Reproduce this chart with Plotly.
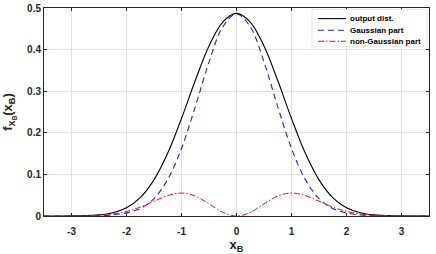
import plotly.graph_objects as go

x_vals = [-3.5, -3.25, -3.0, -2.75, -2.5, -2.25, -2.0, -1.75, -1.5, -1.25, -1.0, -0.75, -0.5, -0.25,
          0.0, 0.25, 0.5, 0.75, 1.0, 1.25, 1.5, 1.75, 2.0, 2.25, 2.5, 2.75, 3.0, 3.25, 3.5]
output_half = [0.487, 0.4663, 0.4085, 0.3256, 0.2344, 0.1512, 0.0869, 0.0443, 0.0199, 0.0079, 0.0027, 0.0009, 0.0003, 0.0001, 0.0]
gauss_half = [0.486, 0.4547, 0.3700, 0.2625, 0.1623, 0.0880, 0.0420, 0.0180, 0.0075, 0.0026, 0.0008, 0.0002, 0.0001, 0.0, 0.0]
nongauss_half = [0.0, 0.0088, 0.0292, 0.0481, 0.0552, 0.0491, 0.0356, 0.0215, 0.0110, 0.0048, 0.0018, 0.0006, 0.0002, 0.0, 0.0]

output_dist = output_half[::-1] + output_half[1:]
gauss_part = gauss_half[::-1] + gauss_half[1:]
nongauss_part = nongauss_half[::-1] + nongauss_half[1:]

series_names = ["output dist.", "Gaussian part", "non-Gaussian part"]
series_values = [output_dist, gauss_part, nongauss_part]
series_colors = ["black", "#2323e0", "#e0141e"]
series_dashes = ["solid", "6px,4px", "6px,2px,1.5px,2px"]
series_widths = [1.1, 1.1, 1.0]

x_ticks = [-3, -2, -1, 0, 1, 2, 3]
x_tick_text = ["-3", "-2", "-1", "0", "1", "2", "3"]
y_ticks = [0, 0.1, 0.2, 0.3, 0.4, 0.5]
y_tick_text = ["0", "0.1", "0.2", "0.3", "0.4", "0.5"]

font_family = "Liberation Sans, Arial, sans-serif"

fig = go.Figure()
for name, vals, col, dash, w in zip(series_names, series_values, series_colors, series_dashes, series_widths):
    fig.add_trace(go.Scatter(x=x_vals, y=vals, mode="lines", name=name, showlegend=False,
                             line=dict(color=col, width=w, dash=dash, shape="spline")))

axis_common = dict(showline=True, linecolor="#262626", linewidth=1, mirror="ticks",
                   ticks="inside", ticklen=3, tickcolor="#262626", automargin=False,
                   showgrid=True, gridcolor="#e3e3e3", gridwidth=1, zeroline=False,
                   tickfont=dict(family=font_family, size=10, color="#262626", weight="bold"))

fig.update_xaxes(range=[-3.5, 3.5], tickvals=x_ticks, ticktext=x_tick_text, ticklabelstandoff=6,
                 title=dict(text="<b>x<sub>B</sub></b>", font=dict(family=font_family, size=13, color="#262626")),
                 **axis_common)
fig.update_yaxes(range=[0, 0.5], tickvals=y_ticks, ticktext=y_tick_text,
                 title=dict(text="<b>f<sub>X<sub>B</sub></sub>(x<sub>B</sub>)</b>",
                            font=dict(family=font_family, size=13, color="#262626")),
                 **axis_common)

# legend box (drawn in paper coordinates, MATLAB-style compact legend)
fig.add_shape(type="rect", xref="paper", yref="paper", x0=0.696, x1=0.995, y0=0.814, y1=0.993,
              fillcolor="white", line=dict(color="#e2e2e2", width=0.8), layer="above")
legend_rows = [0.949, 0.893, 0.840]
for name, col, dash, w, yr in zip(series_names, series_colors, series_dashes, series_widths, legend_rows):
    fig.add_shape(type="line", xref="paper", yref="paper", x0=0.7117, x1=0.7844, y0=yr, y1=yr,
                  line=dict(color=col, width=w, dash=dash), layer="above")
    fig.add_annotation(xref="paper", yref="paper", x=0.7896, y=yr, xanchor="left", yanchor="middle",
                       text="<b>" + name + "</b>", showarrow=False,
                       font=dict(family=font_family, size=8, color="black"))

fig.update_layout(
    width=436, height=254,
    margin=dict(l=44, r=7, t=8, b=38),
    paper_bgcolor="white", plot_bgcolor="white",
    showlegend=False,
)

fig.write_html("out.html")
